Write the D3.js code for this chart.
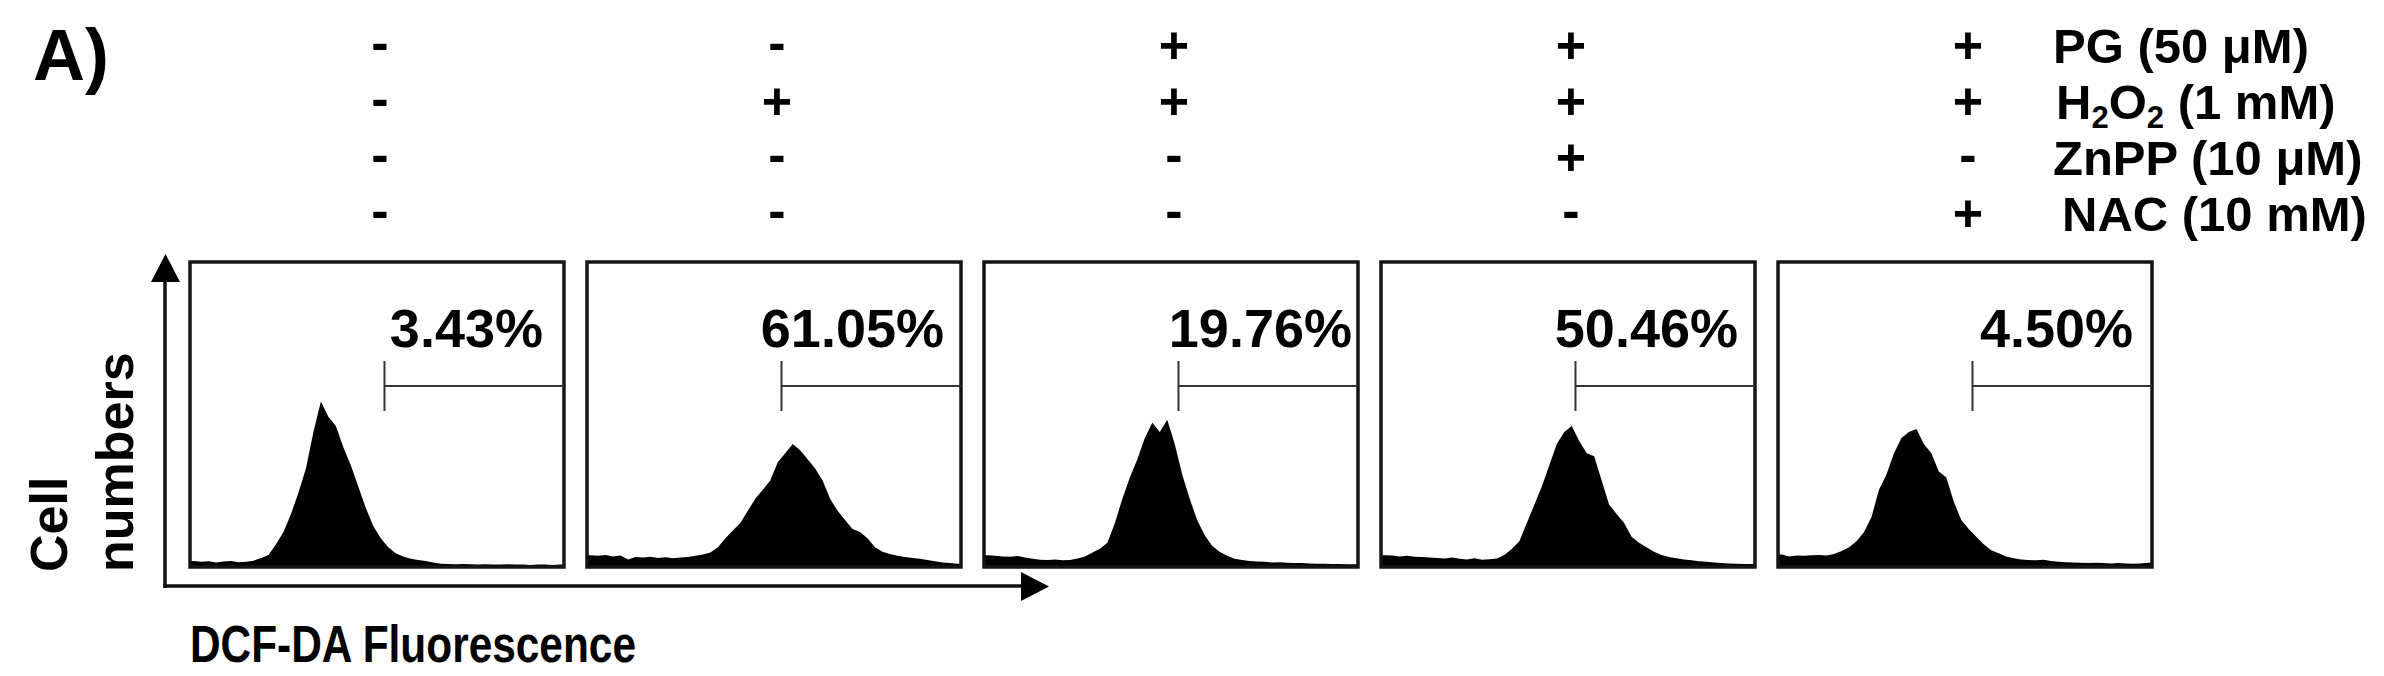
<!DOCTYPE html>
<html><head><meta charset="utf-8">
<script src="https://cdn.jsdelivr.net/npm/d3@7"></script>
<style>body{margin:0;background:#fff}svg{display:block}</style>
</head><body>
<svg id="chart" width="2384" height="676"></svg>
<script>
// ---------- DATA ----------
const conditions = ["Control", "H2O2", "PG+H2O2", "PG+H2O2+ZnPP", "PG+H2O2+NAC"];
const treatmentLabels = ["PG (50 μM)", "H2O2 (1 mM)", "ZnPP (10 μM)", "NAC (10 mM)"];
const treatmentSigns = [
  ["-", "-", "+", "+", "+"],
  ["-", "+", "+", "+", "+"],
  ["-", "-", "-", "+", "-"],
  ["-", "-", "-", "-", "+"]
];
const percentLabels = ["3.43%", "61.05%", "19.76%", "50.46%", "4.50%"];
const gateStart = 52;      // fluorescence channel where the gate begins
const gateEnd = 100;
const binWidth = 2;        // channels per histogram bin (0-100 channel range)
const histControl = [1.5,1.2,1.4,1.0,1.3,1.5,1.1,1.2,1.6,2.5,3.5,7,11,17,24,32,44,54,49,46,39,33,26,19,13,9,6,4,3,2.2,1.8,1.5,1.0,0.6,0.5,0.4,0.5,0.4,0.3,0.4,0.3,0.3,0.4,0.3,0.3,0.2,0.3,0.3,0.2,0.3];
const histH2O2 = [3.4,3.2,3.5,3.0,3.3,2.0,2.8,2.6,2.9,2.5,2.7,2.4,2.6,2.8,3.2,3.6,4.3,6,9,11.5,14,18,22,25,28,34,37,40,38,35,32,28,22,18,15,12,11,9,6,4.5,3.8,3.2,2.8,2.5,2.2,1.8,1.4,1.0,0.8,0.6];
const histPG = [3.4,3.2,3.0,2.9,3.1,2.6,2.2,1.9,1.8,2.0,1.7,1.8,2.3,3.0,4.3,5.5,7.5,14,22,29,35,42,47,44,48,40,30,22,15,10,6.5,4.5,3.2,2.2,1.8,1.5,1.3,1.2,1.0,1.1,0.9,0.8,0.8,0.7,0.6,0.6,0.5,0.5,0.4,0.4];
const histZnPP = [3.4,3.3,3.0,3.2,2.9,2.8,2.6,2.5,2.3,2.6,2.2,2.0,2.4,1.9,2.1,2.3,3.5,5.5,8,14,20,26,33,40,44,46,41,37,36,28,20,17,14,9.5,7.5,6,4.5,3.5,2.8,2.4,2.0,1.7,1.4,1.2,1.0,0.8,0.7,0.6,0.5,0.5];
const histNAC = [3.6,3.0,3.3,3.2,3.4,3.5,3.3,3.8,4.8,6,8,11,16,25,30,37,42,44,45,40,37,31,29,21,15,12,9.5,7,5,4,3,2.4,2.0,1.8,1.7,1.9,1.5,1.2,1.1,1.0,0.9,0.8,0.9,0.8,0.7,0.8,0.7,0.6,0.7,0.9];
const histograms = [histControl, histH2O2, histPG, histZnPP, histNAC];

// ---------- LAYOUT ----------
const FONT = "'Liberation Sans', Arial, Helvetica, sans-serif";
const panelTop = 262, panelBottom = 567;
const labelRightOffset = [21, 17, 6, 17, 19];
const rowCenters = [45, 101, 157, 213];

const svg = d3.select("#chart");
svg.append("rect").attr("width", 2384).attr("height", 676).attr("fill", "#fff");

const xBand = d3.scaleBand().domain(conditions).range([190, 2152]).paddingInner(0.058).paddingOuter(0);
const bw = xBand.bandwidth();
const yScale = d3.scaleLinear().domain([0, 100]).range([panelBottom - 1.5, panelTop]);

// Panel label
svg.append("text").attr("x", 33).attr("y", 80).attr("font-family", FONT).attr("font-weight", "bold")
  .attr("font-size", 72).attr("fill", "#000").text("A)");

// Treatment header
const header = svg.append("g");
treatmentSigns.forEach((row, r) => {
  row.forEach((s, c) => {
    const cx = xBand(conditions[c]) + bw / 2 + 3;
    const fs = 52;
    const base = rowCenters[r] + (s === "+" ? 0.35 * fs : 0.285 * fs);
    header.append("text").attr("x", cx).attr("y", base).attr("text-anchor", "middle")
      .attr("font-family", FONT).attr("font-weight", "bold").attr("font-size", fs).attr("fill", "#000").text(s);
  });
});
const labelX = [2053, 2056, 2053, 2062];
treatmentLabels.forEach((lab, r) => {
  const t = header.append("text").attr("x", labelX[r]).attr("y", rowCenters[r] + 18)
    .attr("font-family", FONT).attr("font-weight", "bold").attr("font-size", 49).attr("fill", "#000");
  if (lab.startsWith("H2O2")) {
    t.append("tspan").text("H");
    t.append("tspan").attr("font-size", 31).attr("dy", 9).text("2");
    t.append("tspan").attr("dy", -9).text("O");
    t.append("tspan").attr("font-size", 31).attr("dy", 9).text("2");
    t.append("tspan").attr("dy", -9).text(lab.slice(4));
  } else {
    t.text(lab);
  }
});

// Panels
conditions.forEach((cond, i) => {
  const x0 = xBand(cond);
  const xs = d3.scaleLinear().domain([0, 100]).range([x0, x0 + bw]);
  const g = svg.append("g");
  const clipId = "clip" + i;
  g.append("clipPath").attr("id", clipId).append("rect")
    .attr("x", x0).attr("y", panelTop).attr("width", bw).attr("height", panelBottom - panelTop);
  const h = histograms[i];
  const pts = h.map((v, k) => [k * binWidth + binWidth / 2, v]);
  pts.unshift([0, h[0]]);
  pts.push([100, h[h.length - 1]]);
  const area = d3.area().curve(d3.curveLinear)
    .x(d => xs(d[0])).y0(yScale(0) + 2).y1(d => yScale(d[1]));
  g.append("path").attr("clip-path", `url(#${clipId})`).attr("d", area(pts)).attr("fill", "#000");
  g.append("rect").attr("x", x0).attr("y", panelTop).attr("width", bw).attr("height", panelBottom - panelTop)
    .attr("fill", "none").attr("stroke", "#151515").attr("stroke-width", 3.5);
  // gate
  const gx = xs(gateStart), gy = panelTop + 124;
  g.append("line").attr("x1", gx).attr("x2", gx).attr("y1", gy - 25).attr("y2", gy + 25)
    .attr("stroke", "#333").attr("stroke-width", 2);
  g.append("line").attr("x1", gx).attr("x2", xs(gateEnd)).attr("y1", gy).attr("y2", gy)
    .attr("stroke", "#333").attr("stroke-width", 2.2);
  g.append("text").attr("x", x0 + bw - labelRightOffset[i]).attr("y", panelTop + 85).attr("text-anchor", "end")
    .attr("font-family", FONT).attr("font-weight", "bold").attr("font-size", 54).attr("fill", "#000")
    .text(percentLabels[i]);
});

// Axes arrows
const axG = svg.append("g");
axG.append("line").attr("x1", 165).attr("x2", 165).attr("y1", 280).attr("y2", 588).attr("stroke", "#111").attr("stroke-width", 3.5);
axG.append("line").attr("x1", 163.25).attr("x2", 1023).attr("y1", 586).attr("y2", 586).attr("stroke", "#111").attr("stroke-width", 3.5);
axG.append("path").attr("d", "M151,282 L180,282 L165.5,254 Z").attr("fill", "#000");
axG.append("path").attr("d", "M1021,572 L1021,601 L1049,586.5 Z").attr("fill", "#000");

// Axis titles
svg.append("text").attr("transform", "translate(67,572) rotate(-90)").attr("font-family", FONT)
  .attr("font-weight", "bold").attr("font-size", 52).attr("fill", "#000").text("Cell");
svg.append("text").attr("transform", "translate(133,572) rotate(-90)").attr("font-family", FONT)
  .attr("font-weight", "bold").attr("font-size", 52).attr("fill", "#000").text("numbers");
svg.append("text").attr("x", 190).attr("y", 662).attr("font-family", FONT)
  .attr("font-weight", "bold").attr("font-size", 52).attr("fill", "#000")
  .attr("textLength", 446).attr("lengthAdjust", "spacingAndGlyphs").text("DCF-DA Fluorescence");
</script>
</body></html>
